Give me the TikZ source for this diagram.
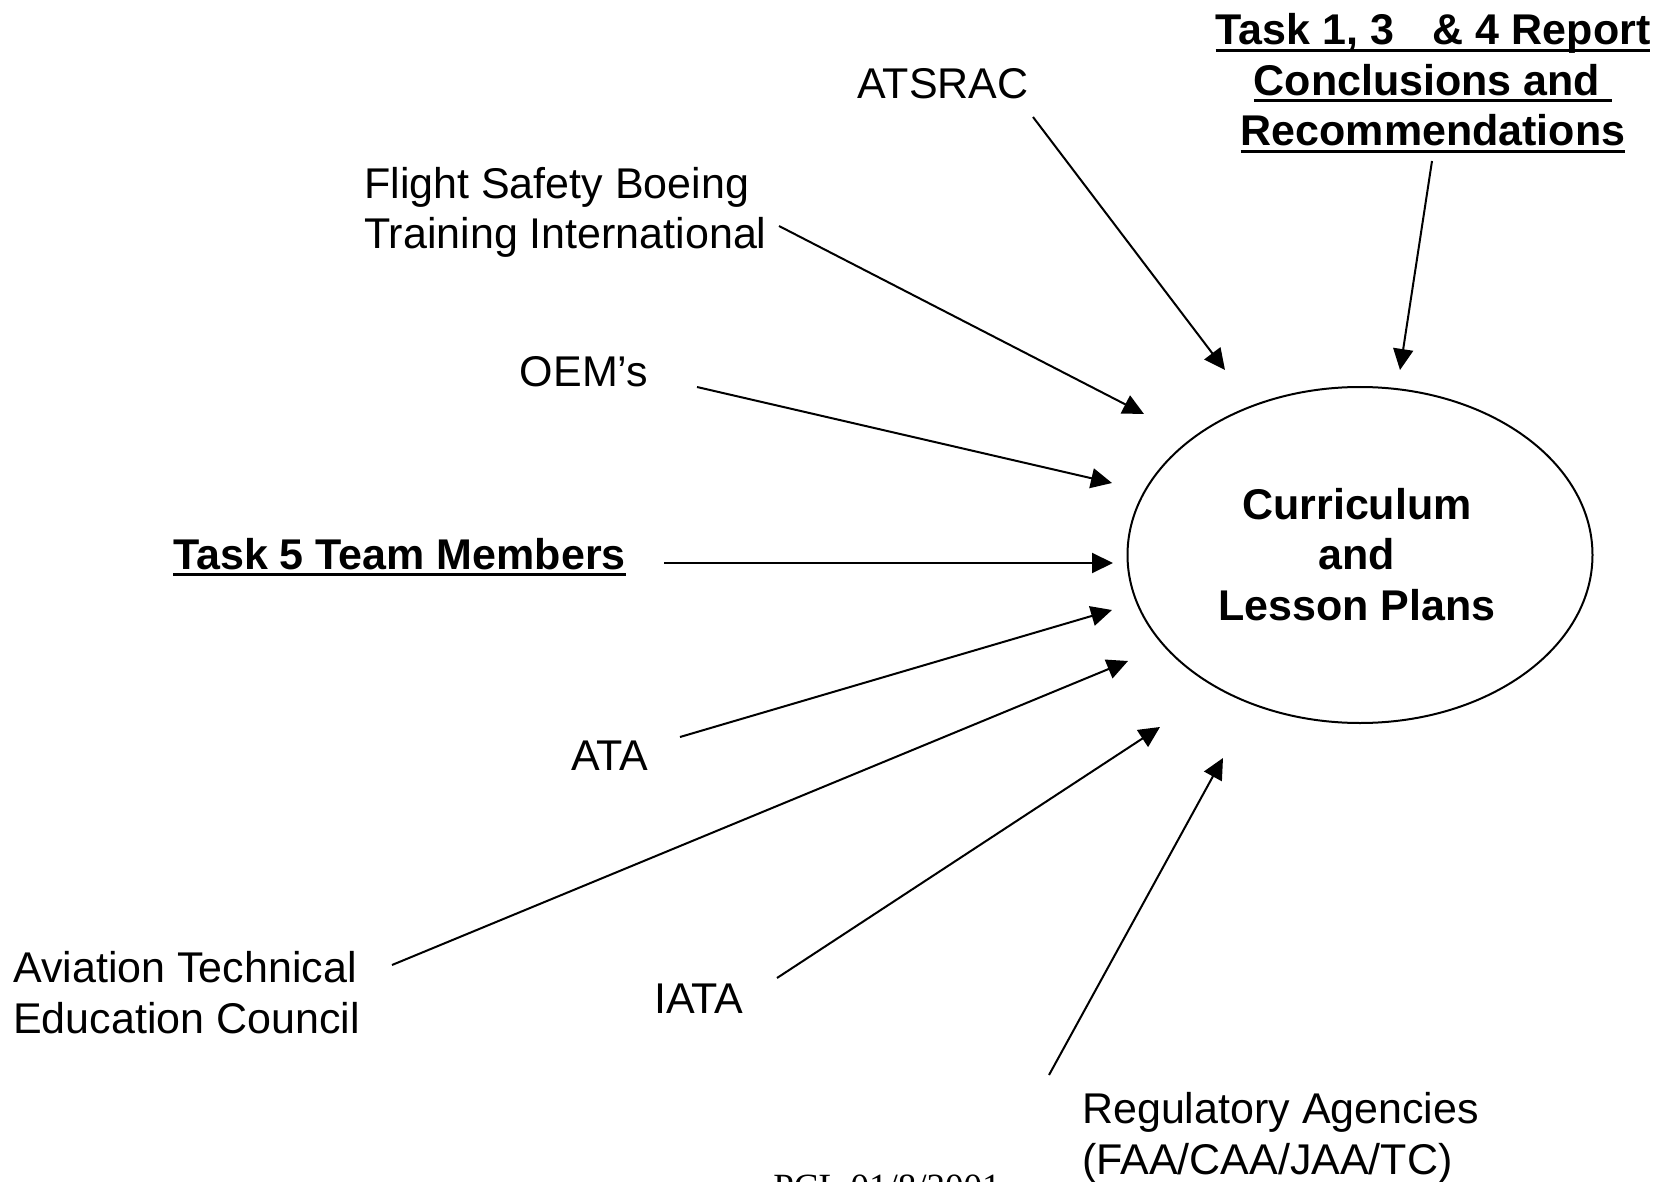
\documentclass[tikz,border=0pt]{standalone}
\usepackage{fontspec}
\setmainfont{Liberation Sans}
\newfontfamily\pclfont{Liberation Serif}
\usetikzlibrary{arrows.meta,shapes.geometric}
\newcommand\myul[1]{\setbox0\hbox{#1}\rlap{\rule[-7pt]{\wd0}{3pt}}\box0}
\begin{document}
\begin{tikzpicture}[x=1pt,y=-1pt,
  lbl/.style={inner sep=0pt, font=\fontsize{43}{50.5}\selectfont},
  blbl/.style={inner sep=0pt, font=\fontsize{43}{50.5}\selectfont\bfseries},
  arr/.style={-{Triangle[length=21pt,width=20pt]}, line width=2pt}]
\fill[white] (0,0) rectangle (1666,1182);
\useasboundingbox (0,0) rectangle (1666,1182);
\begin{scope}
\clip (0,0) rectangle (1666,1182);
% texts (base anchor = baseline of last line)
\node[lbl, anchor=base] (atsrac) at (943,99) {ATSRAC};
\node[lbl, anchor=base west, align=left] (fsb) at (364,249) {Flight Safety Boeing\\Training International};
\node[lbl, anchor=base] (oem) at (584,386) {OEM’s};
\node[blbl, anchor=base west] (task5) at (173,569) {\myul{Task 5 Team Members}};
\node[lbl, anchor=base] (ata) at (610,770) {ATA};
\node[lbl, anchor=base west, align=left] (atec) at (13,1033) {Aviation Technical\\Education Council};
\node[lbl, anchor=base] (iata) at (699,1013) {IATA};
\node[lbl, anchor=base west, align=left] (reg) at (1082,1174) {Regulatory Agencies\\(FAA/CAA/JAA/TC)};
\node[blbl, anchor=base, align=center] (task134) at (1433,146)
  {\myul{Task 1, 3\hspace*{27pt} \& 4 Report}\\\myul{Conclusions and\ }\\\myul{Recommendations}};
\node[inner sep=0pt, anchor=base, font=\fontsize{37}{40}\selectfont\pclfont] (pcl) at (887,1199) {PCL 01/8/2001};
% ellipse
\node[draw, ellipse, line width=2pt, minimum width=465pt, minimum height=336pt, inner sep=0pt] (cur) at (1360,555) {};
\node[blbl, anchor=base, align=center] (curtxt) at (1357,620)
  {Curriculum\\and\\Lesson Plans};
% connector endpoints
\coordinate (s1) at (1033,117);  \coordinate (e1) at (1225,370);
\coordinate (s2) at (779,226);   \coordinate (e2) at (1144,414);
\coordinate (s3) at (697,387);   \coordinate (e3) at (1112,483);
\coordinate (s4) at (664,563);   \coordinate (e4) at (1113,563);
\coordinate (s5) at (680,737);   \coordinate (e5) at (1112,610);
\coordinate (s6) at (392,965);   \coordinate (e6) at (1128,661);
\coordinate (s7) at (777,978);   \coordinate (e7) at (1160,727);
\coordinate (s8) at (1049,1075); \coordinate (e8) at (1223,758);
\coordinate (s9) at (1432,161);  \coordinate (e9) at (1400,370);
\foreach \i in {1,...,9} { \draw[arr] (s\i) -- (e\i); }
\end{scope}
\end{tikzpicture}
\end{document}
